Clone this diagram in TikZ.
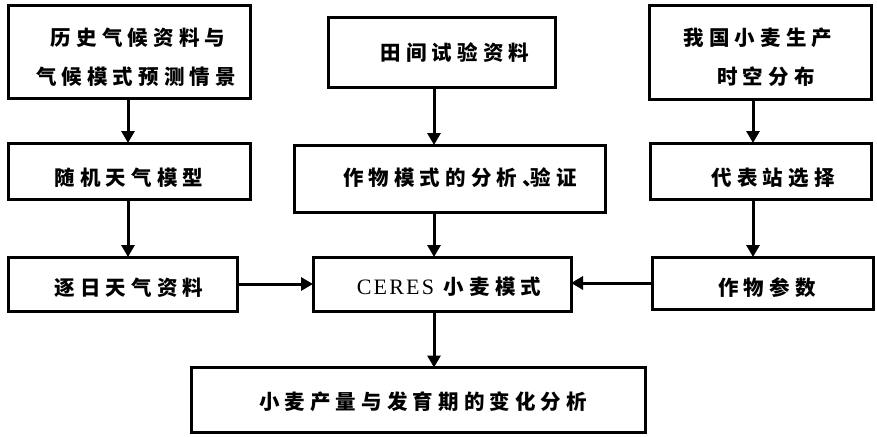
\documentclass[tikz,border=0pt]{standalone}
\usepackage{fontspec}
\setmainfont{Liberation Serif}
\newfontfamily\cjk[LetterSpace=25]{Noto Sans CJK SC}
\newfontfamily\lat[LetterSpace=10]{Liberation Serif}
\usetikzlibrary{arrows.meta}
\tikzset{
  box/.style={draw, line width=3pt, inner sep=0pt, outer sep=0pt},
  lbl/.style={inner sep=0pt, font=\cjk\bfseries\fontsize{20.5}{20.5}\selectfont},
  arr/.style={line width=3pt, -{Triangle[width=13pt,length=12pt]}},
  con/.style={line width=3pt}
}
\begin{document}
\begin{tikzpicture}[x=1pt,y=-1pt]
\useasboundingbox (0,0) rectangle (877,436);
% boxes
\node[box, minimum width=242pt, minimum height=92pt] (b1) at (129,52) {};
\node[box, minimum width=227pt, minimum height=69pt] (b2) at (441.5,52.5) {};
\node[box, minimum width=222pt, minimum height=93pt] (b3) at (760,52.5) {};
\node[box, minimum width=242pt, minimum height=56pt] (b4) at (129,171) {};
\node[box, minimum width=311pt, minimum height=67pt] (b5) at (449.5,178.5) {};
\node[box, minimum width=221pt, minimum height=56pt] (b6) at (760.5,171) {};
\node[box, minimum width=229pt, minimum height=54pt] (b7) at (122.5,284) {};
\node[box, minimum width=258pt, minimum height=54pt] (b8) at (442,284) {};
\node[box, minimum width=221pt, minimum height=52pt] (b9) at (762.5,283) {};
\node[box, minimum width=454pt, minimum height=65pt] (b10) at (418,400) {};
% texts
\node[lbl] (t1a) at (138,38) {历史气候资料与};
\node[lbl] (t1b) at (136,77) {气候模式预测情景};
\node[lbl] (t2) at (455,53) {田间试验资料};
\node[lbl] (t3a) at (758,38) {我国小麦生产};
\node[lbl] (t3b) at (766,77) {时空分布};
\node[lbl] (t4) at (129,178) {随机天气模型};
\node[lbl] (t5) at (460,178) {作物模式的分析、\kern-12pt验证};
\node[lbl] (t6) at (773,178) {代表站选择};
\node[lbl] (t7) at (129,288) {逐日天气资料};
\node[lbl] (t8) at (449,287) {{\lat\mdseries\fontsize{22}{22}\selectfont CERES} 小麦模式};
\node[lbl] (t9) at (767,288) {作物参数};
\node[lbl] (t10) at (423,402) {小麦产量与发育期的变化分析};
% connectors
\coordinate (cl) at (128,0);
\coordinate (cm) at (434,0);
\coordinate (cr) at (753,0);
\draw[arr] (b1.south -| cl) -- (b4.north -| cl);
\draw[arr] (b4.south -| cl) -- (b7.north -| cl);
\draw[arr] (b2.south -| cm) -- (b5.north -| cm);
\draw[arr] (b5.south -| cm) -- (b8.north -| cm);
\draw[arr] (b8.south -| cm) -- (b10.north -| cm);
\draw[arr] (b3.south -| cr) -- (b6.north -| cr);
\draw[arr] (b6.south -| cr) -- (b9.north -| cr);
\draw[arr] (b7.east) -- (b8.west);
\draw[arr] (b9.west) -- (b9.west -| b8.east);
\end{tikzpicture}
\end{document}
